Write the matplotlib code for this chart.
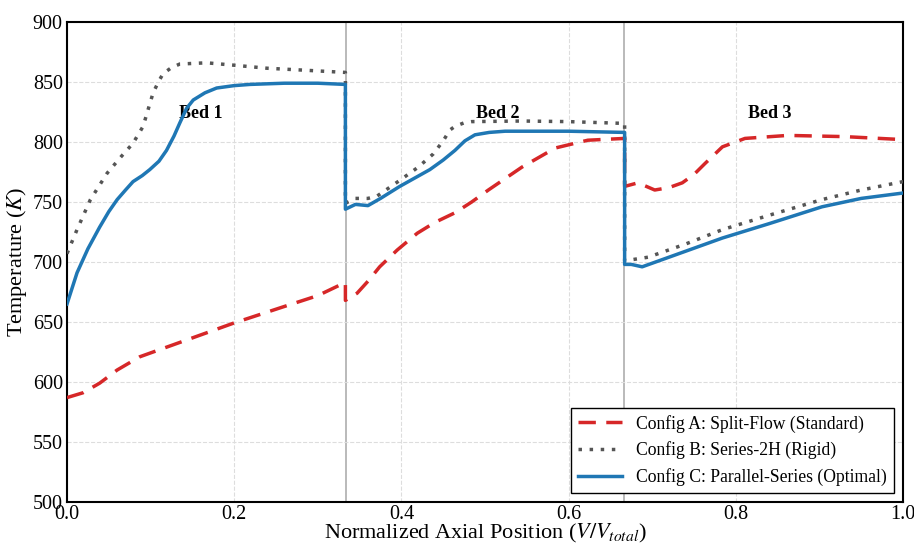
import matplotlib
matplotlib.use("Agg")
import matplotlib.pyplot as plt

plt.rcParams['font.family'] = 'serif'
plt.rcParams['font.serif'] = ['Liberation Serif', 'DejaVu Serif']
plt.rcParams['mathtext.fontset'] = 'stix'

# Config A: Split-Flow (Standard)
x_a = [0, 0.019, 0.039, 0.06, 0.087, 0.119, 0.159, 0.199, 0.258, 0.3, 0.333,
       0.333, 0.347, 0.36, 0.374, 0.395, 0.419, 0.44, 0.464, 0.484, 0.504, 0.544, 0.584, 0.623, 0.667,
       0.667, 0.683, 0.703, 0.72, 0.736, 0.75, 0.763, 0.784, 0.811, 0.862, 0.93, 1.0]
y_a = [587, 591, 599, 610, 621, 629, 639, 649, 662.5, 672, 683,
       668, 674, 684, 696, 710, 724, 733, 741, 750, 760, 779, 795, 801.5, 803,
       763, 766, 760, 762, 766, 773, 782, 796, 803, 805.5, 804.5, 802]

# Config B: Series-2H (Rigid)
x_b = [0, 0.012, 0.028, 0.048, 0.065, 0.079, 0.091, 0.103, 0.11, 0.115, 0.125, 0.135, 0.167, 0.2, 0.239, 0.28, 0.333,
       0.333, 0.345, 0.36, 0.371, 0.398, 0.42, 0.438, 0.45, 0.458, 0.464, 0.475, 0.484, 0.544, 0.6, 0.667,
       0.667, 0.695, 0.74, 0.784, 0.84, 0.903, 0.95, 1.0]
y_b = [707, 727, 752, 774, 788, 799, 813, 841, 851, 857, 862, 865, 866, 864, 861.5, 860, 858,
       749, 753, 753, 755, 768, 779, 790, 801, 810, 813, 816, 817, 817.5, 817, 815.5,
       701, 704, 715, 727, 739, 752, 760, 767]

# Config C: Parallel-Series (Optimal)
x_c = [0, 0.012, 0.025, 0.039, 0.05, 0.06, 0.07, 0.079, 0.09, 0.099, 0.11, 0.119, 0.128, 0.135, 0.143, 0.151,
       0.165, 0.179, 0.2, 0.219, 0.26, 0.3, 0.333,
       0.333, 0.345, 0.36, 0.375, 0.398, 0.434, 0.45, 0.464, 0.476, 0.488, 0.505, 0.524, 0.6, 0.667,
       0.667, 0.675, 0.688, 0.7, 0.74, 0.784, 0.84, 0.903, 0.95, 1.0]
y_c = [665, 691, 711, 729, 742, 752, 760, 767, 772, 777, 784, 793, 805, 816, 828, 835,
       841, 845, 847, 848, 849, 849, 848,
       744, 748, 747, 753, 763, 777, 785, 793, 801, 806, 808, 809, 809, 808,
       698, 698, 696, 699, 709, 720, 732, 746, 753, 757.5]

labels = ["Config A: Split-Flow (Standard)", "Config B: Series-2H (Rigid)",
          "Config C: Parallel-Series (Optimal)"]
bed_names = ["Bed 1", "Bed 2", "Bed 3"]
bed_x = [0.16, 0.515, 0.84]
bed_y = 824
bed_bounds = [1/3, 2/3]

fig = plt.figure(figsize=(9.14, 5.45), dpi=100)
ax = fig.add_axes([0.0733, 0.0789, 0.9147, 0.8807])

for b in bed_bounds:
    ax.axvline(b, color='#999999', lw=1.2, alpha=0.8, zorder=1)

ax.plot(x_a, y_a, color='#d62728', lw=2.5, ls=(0, (5, 3)), label=labels[0], zorder=3)
ax.plot(x_b, y_b, color='#555555', lw=2.5, ls=(0, (1, 2.2)), label=labels[1], zorder=3)
ax.plot(x_c, y_c, color='#1f77b4', lw=2.5, ls='-', label=labels[2], zorder=4)

for name, bx in zip(bed_names, bed_x):
    ax.text(bx, bed_y, name, ha='center', va='center', fontsize=13, fontweight='bold')

ax.set_xlim(0, 1)
ax.set_ylim(500, 900)
ax.set_xticks([0, 0.2, 0.4, 0.6, 0.8, 1.0])
ax.set_yticks(range(500, 901, 50))
ax.tick_params(direction='in', labelsize=14.5, length=0)
ax.tick_params(axis='x', pad=2)
ax.tick_params(axis='y', pad=3)
ax.grid(True, ls='--', color='#dddddd', lw=0.8)
for s in ax.spines.values():
    s.set_linewidth(1.5)

ax.set_xlabel(r"Normalized Axial Position ($V/V_{total}$)", fontsize=16, labelpad=-1)
ax.set_ylabel(r"Temperature ($K$)", fontsize=16, labelpad=3)

leg = ax.legend(loc='lower right', fontsize=12.7, fancybox=False, edgecolor='black',
                framealpha=1, handlelength=2.5)
leg.get_frame().set_linewidth(1.0)

fig.savefig("out.png", dpi=100)
